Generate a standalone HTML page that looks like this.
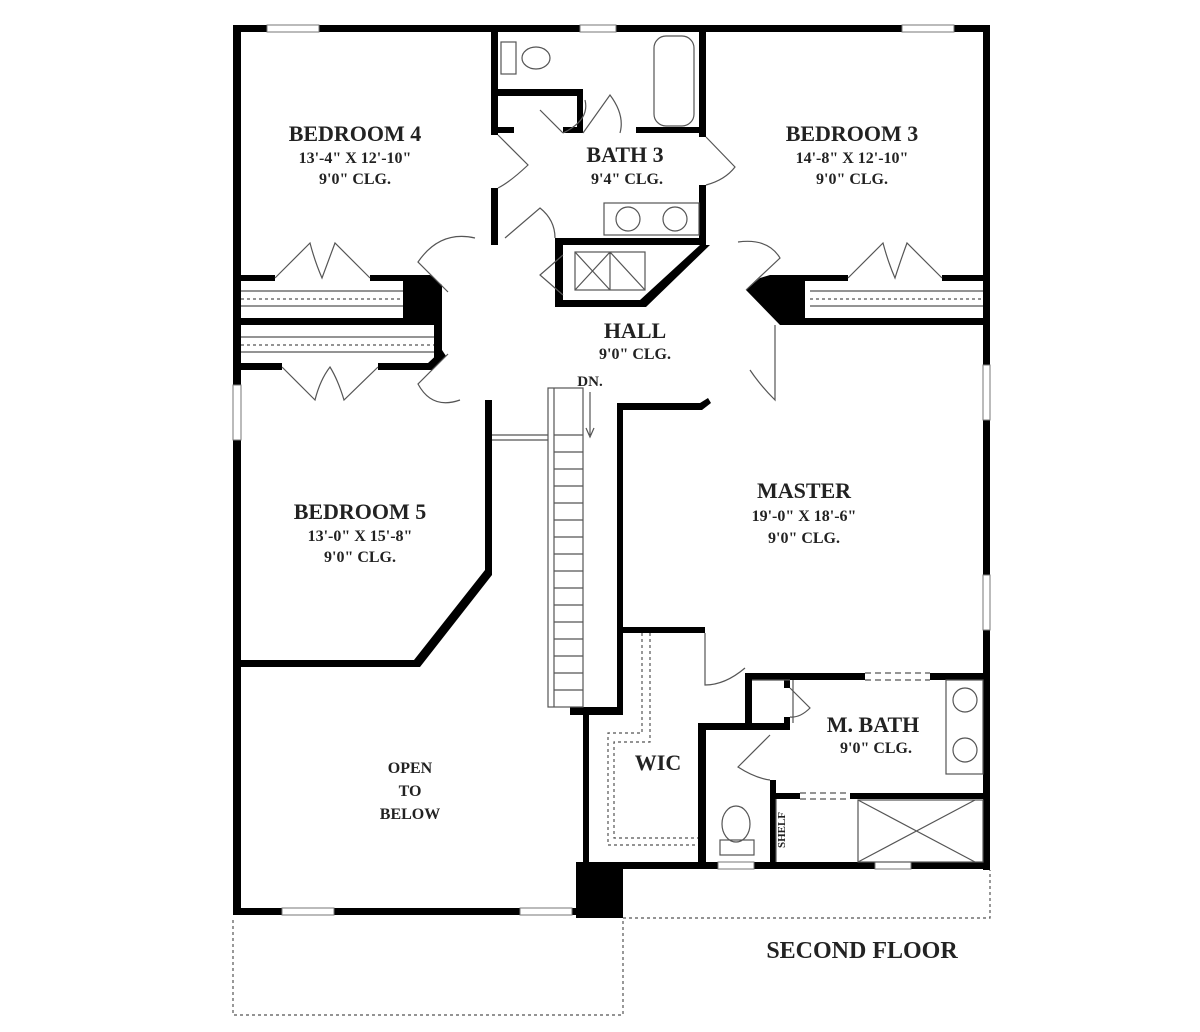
<!DOCTYPE html>
<html><head><meta charset="utf-8"><style>
html,body{margin:0;padding:0;background:#fff}
svg{display:block}
text{font-family:"Liberation Serif",serif;font-weight:bold;fill:#222;text-anchor:middle}
.t{font-size:22px}.s{font-size:16px}
</style></head><body>
<svg width="1200" height="1032" viewBox="0 0 1200 1032" xmlns="http://www.w3.org/2000/svg">
<g fill="#000">
<!-- outer walls -->
<rect x="233" y="25" width="757" height="7"/>
<rect x="233" y="25" width="8" height="890"/>
<rect x="983" y="25" width="7" height="845"/>
<rect x="233" y="908" width="390" height="7"/>
<rect x="583" y="862" width="407" height="7"/>
<rect x="576" y="862" width="47" height="56"/>
<!-- bath 3 -->
<rect x="491" y="25" width="7" height="110"/>
<rect x="491" y="188" width="7" height="57"/>
<rect x="498" y="89" width="84" height="7"/>
<rect x="577" y="89" width="6" height="44"/>
<rect x="563" y="127" width="20" height="6"/>
<rect x="498" y="127" width="16" height="6"/>
<rect x="699" y="25" width="7" height="112"/>
<rect x="699" y="185" width="7" height="60"/>
<rect x="636" y="127" width="70" height="6"/>
<rect x="555" y="238" width="150" height="7"/>
<polygon points="555,245 563,245 563,300 640,300 700,245 710,245 646,307 555,307"/>
<!-- bedroom 4 bottom -->
<rect x="241" y="275" width="34" height="6"/>
<rect x="370" y="275" width="35" height="6"/>
<polygon points="403,275 430,275 442,285 442,320 403,320"/>
<rect x="241" y="318" width="201" height="7"/>
<rect x="434" y="300" width="8" height="60"/>
<polygon points="241,363 282,363 282,370 241,370"/>
<polygon points="378,363 428,363 442,350 446,356 432,370 378,370"/>
<rect x="485" y="400" width="7" height="175"/>
<polygon points="485,570 492,575 420,667 241,667 241,660 414,660"/>
<!-- bedroom 3 bottom -->
<rect x="848" y="275" width="0" height="0"/>
<rect x="942" y="275" width="41" height="6"/>
<rect x="805" y="275" width="43" height="6"/>
<polygon points="770,275 805,275 805,325 780,325 746,290 760,278"/>
<rect x="805" y="318" width="178" height="7"/>
<!-- master -->
<rect x="617" y="405" width="6" height="305"/>
<polygon points="617,403 700,403 708,398 711,403 702,410 617,410"/>
<rect x="623" y="627" width="82" height="6"/>
<rect x="570" y="707" width="53" height="8"/>
<rect x="583" y="707" width="6" height="160"/>
<!-- m bath -->
<rect x="745" y="673" width="120" height="7"/>
<rect x="930" y="673" width="60" height="7"/>
<rect x="745" y="673" width="7" height="52"/>
<rect x="698" y="723" width="92" height="7"/>
<rect x="698" y="723" width="8" height="145"/>
<rect x="770" y="780" width="6" height="88"/>
<rect x="770" y="793" width="30" height="6"/>
<rect x="850" y="793" width="140" height="6"/>
<rect x="784" y="680" width="6" height="8"/>
<rect x="784" y="717" width="6" height="8"/>
</g>
<g fill="#fff" stroke="#777" stroke-width="1">
<!-- windows -->
<rect x="267" y="25" width="52" height="7"/><rect x="580" y="25" width="36" height="7"/><rect x="902" y="25" width="52" height="7"/>
<rect x="983" y="365" width="7" height="55"/><rect x="983" y="575" width="7" height="55"/>
<rect x="233" y="385" width="8" height="55"/>
<rect x="282" y="908" width="52" height="7"/><rect x="520" y="908" width="52" height="7"/>
<rect x="718" y="862" width="36" height="7"/><rect x="875" y="862" width="36" height="7"/>
</g>
<g fill="none" stroke="#555" stroke-width="1.2">
<!-- dashed porch -->
<path d="M233,920 V1015 H623 V920" stroke-dasharray="3,3"/>
<path d="M623,918 H990 V870" stroke-dasharray="3,3"/>
<!-- closets shelves -->
<path d="M241,299 H403" stroke-dasharray="3,3"/><path d="M241,291 H403 M241,306 H403"/>
<path d="M241,345 H434" stroke-dasharray="3,3"/><path d="M241,337 H434 M241,352 H434"/>
<path d="M810,299 H983" stroke-dasharray="3,3"/><path d="M810,291 H983 M810,306 H983"/>
<!-- bifold doors -->
<path d="M275,278 L310,243 Q315,262 322,278 Q328,262 335,243 L370,278"/>
<path d="M848,278 L883,243 Q888,262 895,278 Q900,262 907,243 L942,278"/>
<path d="M282,367 L315,400 Q320,380 330,367 Q338,380 344,400 L378,367"/>
<!-- door swings -->
<path d="M448,292 L418,262 Q440,230 475,238"/>
<path d="M448,354 L418,384 Q432,410 460,400"/>
<path d="M498,135 L528,165 Q510,182 498,188"/>
<path d="M563,133 L540,110"/><path d="M563,133 Q590,120 585,100 M583,133 L610,95 Q625,115 620,133"/>
<path d="M706,137 L735,167 Q725,180 706,185"/>
<path d="M505,238 L540,208 Q555,220 555,238"/>
<path d="M746,290 L780,258 Q768,238 738,242"/>
<path d="M775,325 V400 Q760,385 750,370"/>
<path d="M705,633 L705,685 Q725,685 745,668"/>
<path d="M790,688 L810,708 Q800,718 790,717"/>
<path d="M770,735 L738,767 Q755,778 770,780"/>
<!-- stairs -->
<rect x="548" y="388" width="35" height="319"/>
<path d="M554,388 V707"/>
<path d="M492,435 H548 M492,440 H548"/>
<path d="M554,435H583M554,452H583M554,469H583M554,486H583M554,503H583M554,520H583M554,537H583M554,554H583M554,571H583M554,588H583M554,605H583M554,622H583M554,639H583M554,656H583M554,673H583M554,690H583"/>
<path d="M590,392 V435 M586,428 L590,437 L594,428"/>
<!-- linen closet -->
<rect x="575" y="252" width="70" height="38"/><path d="M575,252 L610,290 M610,252 L575,290 M610,252 V290 M610,252 L645,290"/>
<path d="M563,255 L540,275 L563,295"/>
<!-- tub, toilet, sinks -->
<rect x="654" y="36" width="40" height="90" rx="12"/>
<rect x="501" y="42" width="15" height="32"/><ellipse cx="536" cy="58" rx="14" ry="11"/>
<rect x="604" y="203" width="95" height="32"/><circle cx="628" cy="219" r="12"/><circle cx="675" cy="219" r="12"/>
<rect x="946" y="680" width="37" height="94"/><circle cx="965" cy="700" r="12"/><circle cx="965" cy="750" r="12"/>
<ellipse cx="736" cy="824" rx="14" ry="18"/><rect x="720" y="840" width="34" height="15"/>
<rect x="858" y="800" width="125" height="62"/><path d="M858,800 L975,862 M975,800 L858,862"/>
<path d="M776,799 V862 M793,680 V723 M752,680 H790"/>
<!-- WIC shelves -->
<path d="M642,633 V733 H608 V845 H698 M650,633 V742 H614 V838 H698" stroke-dasharray="3,3"/>
<!-- dashed openings -->
<path d="M865,673 H930 M865,680 H930 M800,793 H850 M800,799 H850" stroke-dasharray="6,4"/>
</g>
<text class="t" x="355" y="141">BEDROOM 4</text>
<text class="s" x="355" y="163">13'-4" X 12'-10"</text>
<text class="s" x="355" y="184">9'0" CLG.</text>
<text class="t" x="625" y="162">BATH 3</text>
<text class="s" x="627" y="184">9'4" CLG.</text>
<text class="t" x="852" y="141">BEDROOM 3</text>
<text class="s" x="852" y="163">14'-8" X 12'-10"</text>
<text class="s" x="852" y="184">9'0" CLG.</text>
<text class="t" x="635" y="338">HALL</text>
<text class="s" x="635" y="359">9'0" CLG.</text>
<text x="590" y="386" style="font-size:15px">DN.</text>
<text class="t" x="360" y="519">BEDROOM 5</text>
<text class="s" x="360" y="541">13'-0" X 15'-8"</text>
<text class="s" x="360" y="562">9'0" CLG.</text>
<text class="t" x="804" y="498">MASTER</text>
<text class="s" x="804" y="521">19'-0" X 18'-6"</text>
<text class="s" x="804" y="543">9'0" CLG.</text>
<text class="t" x="658" y="770">WIC</text>
<text class="t" x="873" y="732">M. BATH</text>
<text class="s" x="876" y="753">9'0" CLG.</text>
<text x="410" y="773" style="font-size:16px">OPEN</text>
<text x="410" y="796" style="font-size:16px">TO</text>
<text x="410" y="819" style="font-size:16px">BELOW</text>
<text x="862" y="958" style="font-size:24px">SECOND FLOOR</text>
<text x="785" y="830" style="font-size:11px" transform="rotate(-90 785 830)">SHELF</text>
</svg>
</body></html>
